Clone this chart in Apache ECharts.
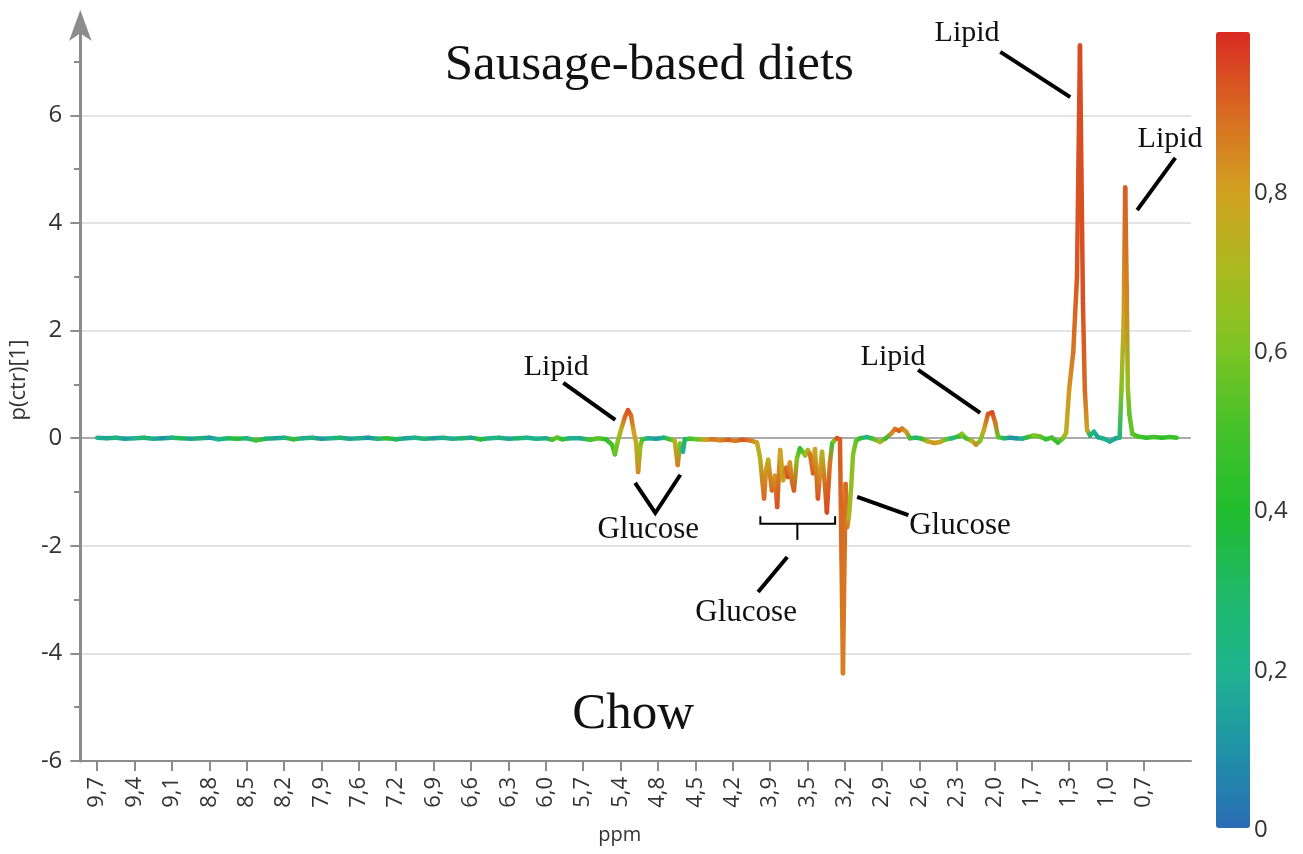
<!DOCTYPE html>
<html>
<head>
<meta charset="utf-8">
<script src="https://cdn.jsdelivr.net/npm/echarts@6/dist/echarts.min.js"></script>
<style>
  html, body { margin: 0; padding: 0; background: #ffffff; }
  #chart { width: 1303px; height: 854px; }
</style>
</head>
<body>
<div id="chart"></div>
<script>
// ppm labels of the spectral bins shown on the x axis (one per tick position)
const tickLabels = ['9,7','9,4','9,1','8,8','8,5','8,2','7,9','7,6','7,2','6,9','6,6','6,3','6,0','5,7',
  '5,4','4,8','4,5','4,2','3,9','3,5','3,2','2,9','2,6','2,3','2,0','1,7','1,3','1,0','0,7'];

// Position of each spectrum point along the bin axis (0 = first labelled bin, 28 = last)
const binPos = [
  0.00,0.25,0.50,0.75,1.00,1.25,1.50,1.75,2.00,2.25,2.50,2.75,3.00,3.25,3.50,3.75,4.00,4.25,4.50,4.75,
  5.00,5.25,5.50,5.75,6.00,6.25,6.50,6.75,7.00,7.25,7.50,7.75,8.00,8.25,8.50,8.75,9.00,9.25,9.50,9.75,
  10.00,10.25,10.50,10.75,11.00,11.25,11.50,11.75,12.00,
  12.17,12.30,12.44,12.65,12.92,13.19,13.40,13.61,13.77,13.85,13.93,14.01,14.12,14.20,14.28,14.36,14.42,14.47,14.53,14.58,
  14.74,14.95,15.16,15.32,15.45,15.53,15.59,15.67,15.72,15.86,16.05,16.26,16.45,16.66,16.88,17.06,17.25,17.46,
  17.65,17.73,17.84,17.89,17.95,18.05,18.13,18.19,18.27,18.35,18.43,18.48,18.53,18.59,18.64,18.72,18.80,18.88,18.94,
  19.01,19.07,19.15,19.20,19.28,19.34,19.39,19.47,19.52,19.60,19.66,19.71,19.79,19.87,19.95,20.02,20.06,20.11,20.17,
  20.22,20.30,20.41,20.59,20.75,20.94,21.10,21.26,21.34,21.45,21.53,21.64,21.74,21.90,22.06,22.22,22.39,22.55,22.71,
  22.87,23.03,23.13,23.24,23.40,23.51,23.62,23.72,23.83,23.94,24.02,24.10,24.26,24.42,24.58,24.74,24.90,25.06,25.22,
  25.38,25.54,25.70,25.84,25.92,26.00,26.11,26.21,26.29,26.37,26.42,26.48,26.56,26.66,26.77,26.93,27.09,27.25,27.35,
  27.40,27.46,27.50,27.54,27.57,27.61,27.69,27.84,28.06,28.27,28.48,28.69,28.88
];

// Loading p(ctr)[1] at each point
const loading = [
  0.01,0.00,0.01,-0.01,0.00,0.01,-0.01,0.00,0.01,0.00,-0.01,0.00,0.01,-0.02,0.00,-0.01,0.00,-0.04,-0.01,0.00,
  0.01,-0.02,0.00,0.01,-0.01,0.00,0.01,-0.01,0.00,0.01,-0.01,0.00,-0.02,0.00,0.01,-0.01,0.00,0.01,-0.01,0.00,
  0.01,-0.02,0.00,0.01,-0.01,0.00,0.01,-0.01,0.00,
  -0.03,0.01,-0.02,0.00,0.00,-0.03,0.00,-0.02,-0.12,-0.30,-0.05,0.15,0.40,0.52,0.42,0.10,-0.10,-0.63,-0.15,-0.02,
  0.00,-0.01,0.01,-0.02,-0.05,-0.50,-0.10,-0.25,-0.02,-0.01,-0.02,-0.03,-0.02,-0.04,-0.03,-0.05,-0.03,-0.04,
  -0.08,-0.35,-1.12,-0.60,-0.40,-0.97,-0.70,-1.28,-0.22,-0.78,-0.55,-0.72,-0.45,-0.82,-0.97,-0.37,-0.19,-0.26,-0.32,
  -0.22,-0.30,-0.65,-0.20,-1.12,-0.60,-0.25,-0.90,-1.38,-0.47,-0.10,-0.05,0.00,-0.02,-4.37,-0.85,-1.65,-1.45,-0.90,
  -0.30,-0.05,0.00,0.02,-0.01,-0.07,0.00,0.10,0.17,0.14,0.18,0.12,0.00,0.01,-0.01,-0.06,-0.09,-0.07,-0.02,
  0.00,0.03,0.08,0.00,-0.05,-0.12,-0.05,0.15,0.45,0.48,0.30,0.02,0.00,0.01,0.00,-0.01,0.02,0.05,0.03,
  -0.02,0.01,-0.08,0.00,0.10,0.90,1.60,3.00,7.30,2.50,0.90,0.15,0.05,0.12,0.02,-0.01,-0.06,0.00,0.01,
  0.90,2.20,4.66,2.80,0.95,0.45,0.08,0.03,0.01,0.02,0.01,0.02,0.01
];

// Correlation |p(corr)| at each point, shown by colour
const corr = [
  0.22,0.15,0.25,0.12,0.20,0.30,0.18,0.10,0.22,0.35,0.15,0.28,0.12,0.20,0.30,0.42,0.20,0.50,0.30,0.15,
  0.22,0.45,0.18,0.25,0.12,0.20,0.30,0.15,0.22,0.10,0.25,0.45,0.30,0.15,0.20,0.28,0.12,0.22,0.18,0.30,
  0.15,0.42,0.20,0.25,0.15,0.30,0.20,0.22,0.18,
  0.50,0.55,0.45,0.20,0.18,0.50,0.55,0.45,0.50,0.55,0.62,0.75,0.90,0.94,0.90,0.80,0.76,0.84,0.65,0.50,
  0.20,0.12,0.25,0.50,0.72,0.86,0.60,0.20,0.30,0.50,0.55,0.78,0.88,0.84,0.92,0.86,0.93,0.88,
  0.78,0.72,0.90,0.82,0.76,0.90,0.82,0.94,0.80,0.76,0.90,0.94,0.82,0.90,0.92,0.62,0.45,0.55,0.66,
  0.72,0.88,0.92,0.78,0.94,0.82,0.72,0.90,0.95,0.88,0.50,0.62,0.94,0.92,0.86,0.90,0.88,0.72,0.66,
  0.62,0.55,0.45,0.20,0.50,0.72,0.45,0.84,0.88,0.92,0.86,0.82,0.50,0.25,0.45,0.76,0.82,0.78,0.55,
  0.20,0.45,0.65,0.50,0.72,0.84,0.60,0.78,0.93,0.95,0.88,0.55,0.30,0.12,0.10,0.20,0.45,0.62,0.55,
  0.45,0.50,0.45,0.60,0.74,0.82,0.88,0.93,0.95,0.94,0.90,0.78,0.30,0.20,0.15,0.22,0.18,0.15,0.25,
  0.62,0.80,0.92,0.86,0.66,0.55,0.55,0.50,0.45,0.50,0.42,0.48,0.45
];

// Colour scale of the correlation bar (0 at the bottom, 1 at the top)
const corrColors = ['#2b6cb6','#1f93a6','#1fb38f','#1eb865','#22bd2e','#45c12a','#7cc424',
  '#a9b91e','#d2a120','#d86a22','#d92b23'];
const corrTicks = [0, 0.2, 0.4, 0.6, 0.8];

// Y axis ticks
const yMajor = [-6, -4, -2, 0, 2, 4, 6];
const yMinor = [-5, -3, -1, 1, 3, 5, 7];

// Text annotations placed in data space: [label, binPos, loading, font size]
const notes = [
  ['Sausage-based diets', 14.77, 6.93, 51],
  ['Chow', 14.34, -5.13, 51],
  ['Lipid', 23.27, 7.53, 30],
  ['Lipid', 28.70, 5.56, 30],
  ['Lipid', 12.28, 1.32, 30],
  ['Lipid', 21.29, 1.51, 30],
  ['Glucose', 14.74, -1.70, 31],
  ['Glucose', 23.08, -1.63, 31],
  ['Glucose', 17.36, -3.25, 31]
];
// Leader lines pointing at the assigned peaks: list of [binPos, loading] vertices and stroke width
const leaders = [
  [[[24.16, 7.18], [26.03, 6.34]], 4],
  [[[28.84, 5.21], [27.82, 4.24]], 4],
  [[[12.47, 1.03], [13.86, 0.34]], 4],
  [[[21.96, 1.27], [23.62, 0.47]], 4],
  [[[14.39, -0.83], [14.93, -1.39], [15.60, -0.68]], 4],
  [[[20.33, -1.09], [21.70, -1.43]], 4],
  [[[18.46, -2.21], [17.68, -2.86]], 4],
  [[[17.74, -1.45], [17.74, -1.59], [19.74, -1.59], [19.74, -1.45]], 2],
  [[[18.73, -1.59], [18.73, -1.89]], 2]
];

const X_MIN = -0.45, X_MAX = 29.26, Y_MIN = -6, Y_MAX = 7.68;
const AXIS_GREY = '#8c8c8c';
const LABEL_FONT = '"Open Sans", "DejaVu Sans", sans-serif';
const SERIF = '"Liberation Serif", "DejaVu Serif", serif';

const points = binPos.map((x, i) => [x, loading[i], corr[i]]);
const majorIndex = tickLabels.map((_, i) => i);

const chart = echarts.init(document.getElementById('chart'), null, { renderer: 'canvas' });

const gridBox = { left: 80, right: 112, top: 25, bottom: 93 };

const option = {
  animation: false,
  backgroundColor: '#ffffff',
  grid: [
    Object.assign({ containLabel: false }, gridBox),
    Object.assign({ containLabel: false }, gridBox),
    { left: 1249, width: 1, top: 34, height: 796, containLabel: false }
  ],
  xAxis: [
    {
      type: 'value', gridIndex: 0, min: X_MIN, max: X_MAX,
      name: 'ppm', nameLocation: 'middle', nameGap: 64,
      nameTextStyle: { fontFamily: LABEL_FONT, fontSize: 20, color: '#333', padding: [0, 32, 0, 0] },
      axisLine: { show: true, onZero: false, lineStyle: { color: AXIS_GREY, width: 2 } },
      axisTick: { show: true, customValues: majorIndex, length: 10, lineStyle: { color: AXIS_GREY, width: 2 } },
      axisLabel: {
        customValues: majorIndex, rotate: 90, margin: 16,
        fontFamily: LABEL_FONT, fontSize: 22, color: '#333',
        formatter: v => tickLabels[Math.round(v)] || ''
      },
      splitLine: { show: false }
    },
    { type: 'value', gridIndex: 1, min: X_MIN, max: X_MAX, show: false },
    { type: 'value', gridIndex: 2, min: 0, max: 1, show: false }
  ],
  yAxis: [
    {
      type: 'value', gridIndex: 0, min: Y_MIN, max: Y_MAX, interval: 2,
      name: 'p(ctr)[1]', nameLocation: 'middle', nameGap: 46,
      nameTextStyle: { fontFamily: LABEL_FONT, fontSize: 22, color: '#333', padding: [0, 0, 0, 26] },
      axisLine: {
        show: true, onZero: false, symbol: ['none', 'arrow'], symbolSize: [17, 31], symbolOffset: [0, 15],
        lineStyle: { color: AXIS_GREY, width: 3 }
      },
      axisTick: { show: true, customValues: yMajor, length: 10, lineStyle: { color: AXIS_GREY, width: 2 } },
      axisLabel: { customValues: yMajor, margin: 18, fontFamily: LABEL_FONT, fontSize: 24, color: '#333' },
      splitLine: {
        show: true, showMinLine: false,
        lineStyle: { color: ['#dadada', '#dadada', '#8f8f8f', '#dadada', '#dadada', '#dadada', '#dadada'], width: 1.5 }
      }
    },
    {
      type: 'value', gridIndex: 1, min: Y_MIN, max: Y_MAX,
      axisLine: { show: false, onZero: false },
      axisTick: { show: true, customValues: yMinor, length: 6, lineStyle: { color: AXIS_GREY, width: 2 } },
      axisLabel: { show: false },
      splitLine: { show: false }
    },
    {
      type: 'value', gridIndex: 2, min: 0, max: 1, position: 'right',
      axisLine: { show: false, onZero: false }, axisTick: { show: false }, splitLine: { show: false },
      axisLabel: {
        customValues: corrTicks, margin: 4, fontFamily: LABEL_FONT, fontSize: 24, color: '#333',
        formatter: v => String(v).replace('.', ',')
      }
    }
  ],
  visualMap: {
    type: 'continuous', min: 0, max: 1, dimension: 2, seriesIndex: 0,
    left: 1216, top: 32, itemWidth: 34, itemHeight: 796,
    padding: 0, calculable: false, hoverLink: false, text: null,
    inRange: { color: corrColors }
  },
  series: [
    {
      type: 'custom',
      xAxisIndex: 0, yAxisIndex: 0,
      data: points,
      encode: { x: 0, y: 1 },
      z: 3,
      renderItem(params, api) {
        const i = params.dataIndexInside;
        if (i + 1 >= params.dataInsideLength) return null;
        const p0 = api.coord([api.value(0), api.value(1)]);
        const p1 = api.coord([api.value(0, i + 1), api.value(1, i + 1)]);
        const c0 = api.visual('color');
        const c1 = api.visual('color', i + 1);
        return {
          type: 'line',
          shape: { x1: p0[0], y1: p0[1], x2: p1[0], y2: p1[1] },
          style: {
            stroke: new echarts.graphic.LinearGradient(p0[0], p0[1], p1[0], p1[1],
              [{ offset: 0, color: c0 }, { offset: 1, color: c1 }], true),
            lineWidth: 4.5, lineCap: 'round', lineJoin: 'round'
          }
        };
      }
    }
  ]
};

chart.setOption(option);

// Annotation texts and leader lines, positioned through the plot's axes
const toPx = p => chart.convertToPixel({ gridIndex: 0 }, p);
const graphics = [];
notes.forEach(([label, x, y, size]) => {
  const p = toPx([x, y]);
  graphics.push({
    type: 'text', x: p[0], y: p[1], silent: true, z: 10,
    style: { text: label, fontFamily: SERIF, fontSize: size, fill: '#111', align: 'center', verticalAlign: 'middle' }
  });
});
leaders.forEach(([pts, w]) => {
  graphics.push({
    type: 'polyline', silent: true, z: 10,
    shape: { points: pts.map(toPx) },
    style: { stroke: '#000', lineWidth: w, fill: null, lineCap: 'butt', lineJoin: 'miter' }
  });
});
chart.setOption({ graphic: graphics });
</script>
</body>
</html>
